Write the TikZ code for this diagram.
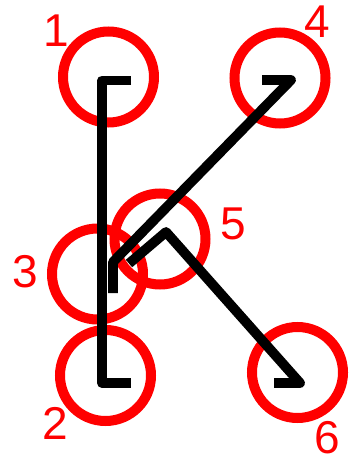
\documentclass[tikz,border=0pt]{standalone}
\usepackage{fontspec}
\setmainfont{Liberation Sans}
\begin{document}
\begin{tikzpicture}[x=1pt,y=-1pt,
  ring/.style={circle,draw=red,line width=10pt,minimum size=91pt,inner sep=0pt},
  lbl/.style={text=red,inner sep=0pt,font=\fontsize{46}{46}\selectfont},
  kstroke/.style={draw=black,line width=9.8pt,line join=round,line cap=butt}]
\useasboundingbox (0,0) rectangle (358,462);
% rings
\node[ring] (c1) at (108.5,77) {};
\node[ring] (c4) at (280,78) {};
\node[ring] (c3) at (97.5,274) {};
\node[ring] (c5) at (160,239) {};
\node[ring] (c2) at (105.5,375.5) {};
\node[ring] (c6) at (297.5,372.5) {};
% labels
\node[lbl] (l1) at (56.5,31) {1};
\node[lbl] (l4) at (317.5,21.5) {4};
\node[lbl] (l3) at (25,271.5) {3};
\node[lbl] (l5) at (233.5,223.5) {5};
\node[lbl] (l2) at (55,423.5) {2};
\node[lbl] (l6) at (327.5,438) {6};
% stroke coordinates
\coordinate (a0) at (131,80.5);
\coordinate (a1) at (102,80.5);
\coordinate (a2) at (102,383);
\coordinate (a3) at (131,383);
\coordinate (b0) at (262,80);
\coordinate (b1) at (291,80);
\coordinate (b2) at (113,262);
\coordinate (b3) at (113,293);
\coordinate (k0) at (129,263.5);
\coordinate (k1) at (166,232);
\coordinate (k2) at (300,383);
\coordinate (k3) at (274,383);
% strokes
\draw[kstroke] (a0) -- (a1) -- (a2) -- (a3);
\draw[kstroke] (b0) -- (b1) -- (b2) -- (b3);
\draw[kstroke] (k0) -- (k1) -- (k2) -- (k3);
\end{tikzpicture}
\end{document}
